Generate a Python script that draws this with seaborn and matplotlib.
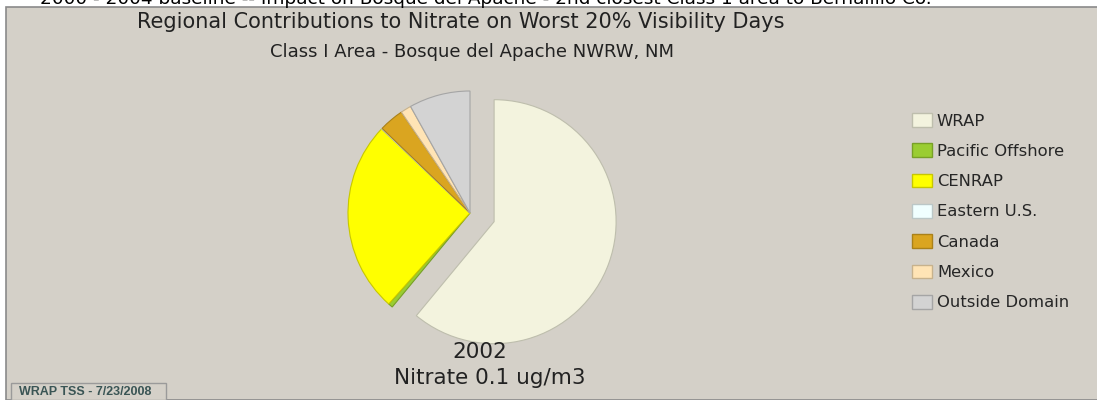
import numpy as np
import matplotlib
matplotlib.use("Agg")
import matplotlib.pyplot as plt
import matplotlib.colors as mcolors
from matplotlib.patches import Rectangle, Patch
import seaborn as sns

# Datos del gráfico
regions = ["WRAP", "Pacific Offshore", "CENRAP", "Eastern U.S.", "Canada", "Mexico", "Outside Domain"]
shares = [61.0, 0.6, 25.5, 0.1, 3.3, 1.4, 8.1]
region_colors = ["#F3F3DE", "#9ACD32", "#FFFF00", "#F0FFFF", "#DAA520", "#FFE4B5", "#D3D3D3"]
year_label = "2002"
total_label = "Nitrate 0.1 ug/m3"
title = "Regional Contributions to Nitrate on Worst 20% Visibility Days"
subtitle = "Class I Area - Bosque del Apache NWRW, NM"
top_caption = "2000 - 2004 baseline -- Impact on Bosque del Apache - 2nd closest Class 1 area to Bernalillo Co."
stamp = "WRAP TSS - 7/23/2008"

sns.set_theme(style="white")
plt.rcParams['font.family'] = ['DejaVu Sans']

W, H = 1097, 400
fig = plt.figure(figsize=(W / 100, H / 100), dpi=100, facecolor="white")

def px(x, y):
    # pixel (desde arriba) -> coordenadas de figura
    return x / W, 1 - y / H

# panel gris estilo Windows (detrás de todo)
fig.patches.append(Rectangle((6 / W, 0), 1, 1 - 7 / H, transform=fig.transFigure,
                             facecolor="#D4D0C8", edgecolor="#8A8A8A", linewidth=1.2, zorder=-5))
fig.text(*px(40, 4), top_caption, fontsize=13.3, va="baseline", ha="left", color="black")

# ejes del pastel: radio ~122 px, centro en (470, 213)
r_px = 122
half = 160
cx, cy = 470, 213
ax = fig.add_axes([(cx - half) / W, (H - cy - half) / H, 2 * half / W, 2 * half / H])
ax.set_facecolor("none")
ax.set_zorder(2)
edge_cols = [tuple(np.array(mcolors.to_rgb(c)) * 0.78) for c in region_colors]
explode = [0.21] + [0] * (len(shares) - 1)
wedges, _ = ax.pie(shares, colors=region_colors, explode=explode, startangle=90,
                   counterclock=False, wedgeprops=dict(linewidth=0.8))
for w, ec in zip(wedges, edge_cols):
    w.set_edgecolor(ec)
lim = half / r_px
ax.set_xlim(-lim, lim)
ax.set_ylim(-lim, lim)
ax.set_aspect("equal")
ax.axis("off")

fig.text(*px(461, 22), title, fontsize=15, ha="center", va="center", color="#222222")
fig.text(*px(472, 52), subtitle, fontsize=13, ha="center", va="center", color="#222222")
fig.text(*px(480, 352), year_label, fontsize=15.5, ha="center", va="center", color="#222222")
fig.text(*px(490, 378), total_label, fontsize=15.5, ha="center", va="center", color="#222222")

handles = [Patch(facecolor=c, edgecolor=ec, linewidth=1, label=r)
           for r, c, ec in zip(regions, region_colors, edge_cols)]
fig.legend(handles=handles, loc="upper left", bbox_to_anchor=px(912, 113), frameon=False,
           fontsize=11.8, handlelength=1.22, handleheight=0.92, handletextpad=0.3,
           labelspacing=0.9, borderaxespad=0, borderpad=0)

# sello inferior izquierdo
fig.patches.append(Rectangle((11 / W, 0), 155 / W, 17 / H, transform=fig.transFigure,
                             facecolor="#D4D0C8", edgecolor="#9A9A9A", linewidth=1, zorder=1))
fig.text(*px(19, 392), stamp, fontsize=9, ha="left", va="center", color="#3A5555",
         fontweight="bold", family="Liberation Sans", zorder=2)

fig.savefig("out.png", dpi=100, facecolor=fig.get_facecolor())
